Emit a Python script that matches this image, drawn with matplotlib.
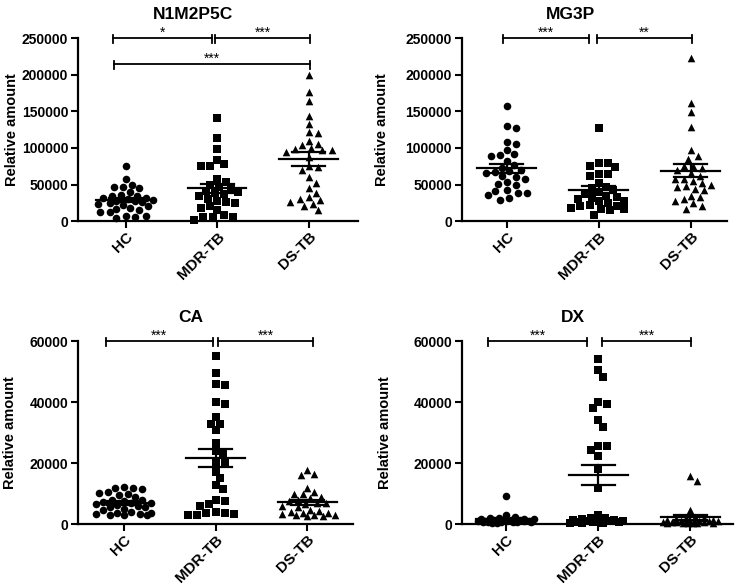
import numpy as np
import matplotlib.pyplot as plt

plt.rcParams['font.family'] = ['Liberation Sans', 'DejaVu Sans']
plt.rcParams['font.weight'] = 'bold'

groups = ['HC', 'MDR-TB', 'DS-TB']
markers = ['o', 's', '^']

# N1M2P5C
n1_hc = [75000, 58000, 50000, 47000, 46000, 45000, 40000, 36000, 35000, 34000,
         32000, 31000, 30000, 29000, 28000, 27000, 26000, 25000, 24000, 22000,
         20000, 18000, 17000, 15000, 12000, 12000, 7000, 7000, 6000, 4000]
n1_mdr = [141000, 114000, 99000, 83000, 78000, 76000, 75000, 58000, 54000, 50000,
          47000, 45000, 41000, 40000, 38000, 37000, 34000, 30000, 27000, 26000,
          25000, 20000, 18000, 15000, 8000, 6000, 5000, 5000, 2000]
n1_ds = [199000, 177000, 164000, 144000, 133000, 122000, 121000, 110000, 106000, 104000,
         100000, 98000, 97000, 97000, 95000, 88000, 75000, 74000, 70000, 60000,
         52000, 45000, 38000, 33000, 30000, 29000, 26000, 24000, 21000, 15000]

# MG3P
mg_hc = [157000, 130000, 127000, 108000, 106000, 97000, 92000, 91000, 89000, 82000,
         77000, 73000, 70000, 68000, 67000, 66000, 62000, 60000, 58000, 53000,
         51000, 49000, 42000, 41000, 39000, 38000, 36000, 32000, 29000]
mg_mdr = [127000, 80000, 80000, 76000, 74000, 65000, 64000, 62000, 52000, 47000,
          45000, 42000, 40000, 37000, 35000, 33000, 32000, 30000, 28000, 27000,
          25000, 22000, 21000, 20000, 18000, 17000, 16000, 15000, 9000]
mg_ds = [223000, 162000, 149000, 128000, 97000, 89000, 85000, 76000, 75000, 72000,
         70000, 66000, 62000, 58000, 57000, 55000, 52000, 49000, 48000, 47000,
         44000, 42000, 35000, 33000, 30000, 28000, 25000, 21000, 17000]

# CA
ca_hc = [12300, 12000, 11800, 11500, 10600, 10300, 10000, 9500, 8800, 8000,
         7800, 7500, 7200, 7000, 6800, 6500, 6200, 6000, 5700, 5500,
         5000, 4500, 4000, 3800, 3500, 3400, 3200, 3000, 3000, 3000]
ca_mdr = [55000, 49500, 46000, 45500, 40000, 39500, 35000, 33000, 33000, 31000,
          26500, 24000, 23000, 20500, 20000, 17000, 15000, 13000, 11500, 8000,
          7500, 6500, 6000, 4000, 3800, 3500, 3200, 3000, 3000]
ca_ds = [17800, 16500, 16000, 12000, 10500, 10000, 10000, 9000, 8500, 8000,
         7500, 7000, 6800, 6500, 6000, 5500, 4500, 4200, 4000, 3800,
         3500, 3200, 3000, 3000, 3000, 2800, 2800]

# DX
dx_hc = [9200, 3000, 2500, 2000, 2000, 1800, 1800, 1600, 1500, 1500,
         1400, 1300, 1200, 1200, 1100, 1000, 1000, 1000, 900, 900,
         800, 800, 700, 700, 600, 600, 500, 500]
dx_mdr = [54200, 50500, 48200, 40000, 39300, 38000, 34000, 31700, 25700, 25500,
          24300, 22500, 18000, 12000, 3000, 2000, 2000, 1800, 1500, 1500,
          1200, 1000, 1000, 900, 800, 700, 600, 500, 500, 300]
dx_ds = [15800, 14000, 4500, 2500, 2000, 2000, 1800, 1500, 1500, 1200,
         1000, 1000, 1000, 900, 800, 800, 800, 700, 600, 600,
         500, 500, 500, 400, 400, 300]

# significance brackets: (from, to, height, label)
n1_sig = [(-0.14, 0.94, 250000, '*'), (0.98, 2.01, 250000, '***'), (-0.13, 2.01, 215000, '***')]
mg_sig = [(-0.04, 0.89, 250000, '***'), (0.98, 2.02, 250000, '**')]
ca_sig = [(-0.20, 0.97, 60000, '***'), (1.03, 2.06, 60000, '***')]
dx_sig = [(-0.19, 0.88, 60000, '***'), (1.04, 2.01, 60000, '***')]

panels = [
    ('N1M2P5C', [n1_hc, n1_mdr, n1_ds], 250000, 50000, n1_sig),
    ('MG3P', [mg_hc, mg_mdr, mg_ds], 250000, 50000, mg_sig),
    ('CA', [ca_hc, ca_mdr, ca_ds], 60000, 20000, ca_sig),
    ('DX', [dx_hc, dx_mdr, dx_ds], 60000, 20000, dx_sig),
]

# axes rects (figure fraction), x limits, ylabel x position
rects = [[0.1054, 0.622, 0.378, 0.3128], [0.624, 0.622, 0.359, 0.3128],
         [0.1054, 0.104, 0.372, 0.3128], [0.624, 0.104, 0.366, 0.3128]]
xlims = [(-0.52, 2.535), (-0.49, 2.40), (-0.50, 2.50), (-0.48, 2.46)]
ylab_x = [-0.21, -0.274, -0.222, -0.257]

W, H = 740, 585
DIAM = 7.5  # marker diameter in px
MAXW = 0.30


def swarm(vals, px_x, px_y):
    # simple beeswarm with a max half-width; overlaps allowed once the row is full
    order = np.argsort(vals)[::-1]
    cand = np.linspace(-MAXW, MAXW, 25)
    cand = cand[np.argsort(np.abs(cand), kind='stable')]
    xs = np.zeros(len(vals))
    placed = []
    for i in order:
        y = vals[i] * px_y
        best, bestd = 0.0, -1
        for c in cand:
            if placed:
                d = min(np.hypot((c - px) * px_x, y - py) for px, py in placed)
            else:
                d = 1e9
            if d >= DIAM:
                best = c
                break
            if d > bestd:
                best, bestd = c, d
        xs[i] = best
        placed.append((best, y))
    return xs


fig = plt.figure(figsize=(7.4, 5.85), dpi=100)

for k, (title, data, ytop, ystep, sig) in enumerate(panels):
    ax = fig.add_axes(rects[k])
    x0, x1 = xlims[k]
    ax.set_xlim(x0, x1)
    ax.set_ylim(0, ytop)
    px_x = rects[k][2] * W / (x1 - x0)
    px_y = rects[k][3] * H / ytop

    for g, vals in enumerate(data):
        vals = np.array(vals, dtype=float)
        xs = g + swarm(vals, px_x, px_y)
        ax.scatter(xs, vals, marker=markers[g], s=30, color='black', linewidths=0,
                   clip_on=False, zorder=3)
        m = vals.mean()
        sem = vals.std(ddof=1) / np.sqrt(len(vals))
        ax.plot([g - 0.32, g + 0.32], [m, m], color='black', lw=1.6, zorder=4)
        ax.plot([g - 0.18, g + 0.18], [m + sem, m + sem], color='black', lw=1.6, zorder=4)
        ax.plot([g - 0.18, g + 0.18], [m - sem, m - sem], color='black', lw=1.6, zorder=4)
        ax.plot([g, g], [m - sem, m + sem], color='black', lw=1.6, zorder=4)

    cap_up = 3 / px_y
    cap_dn = 5 / px_y
    for a, b, h, lab in sig:
        ax.plot([a, b], [h, h], color='black', lw=1.3, clip_on=False)
        for xx in (a, b):
            ax.plot([xx, xx], [h - cap_dn, h + cap_up], color='black', lw=1.3, clip_on=False)
        ax.text((a + b) / 2, h + 1 / px_y, lab, ha='center', va='baseline',
                fontsize=10, fontweight='normal')

    ax.set_title(title, fontsize=12.5, fontweight='bold', x=0.41, pad=14)
    ax.set_yticks(np.arange(0, ytop + 1, ystep))
    ax.ticklabel_format(axis='y', style='plain', useOffset=False)
    ax.set_xticks(range(3))
    ax.set_xticklabels(groups, rotation=45, ha='right', va='top',
                       rotation_mode='anchor', fontsize=11)
    ax.tick_params(axis='y', labelsize=10, width=1.5, length=5, pad=2)
    ax.tick_params(axis='x', width=1.5, length=5, pad=1)
    ax.set_ylabel('Relative amount', fontsize=10.5, fontweight='bold')
    ax.yaxis.set_label_coords(ylab_x[k], 0.5)
    for s in ['top', 'right']:
        ax.spines[s].set_visible(False)
    for s in ['left', 'bottom']:
        ax.spines[s].set_linewidth(1.6)

fig.savefig('out.png', dpi=100, facecolor='white')
